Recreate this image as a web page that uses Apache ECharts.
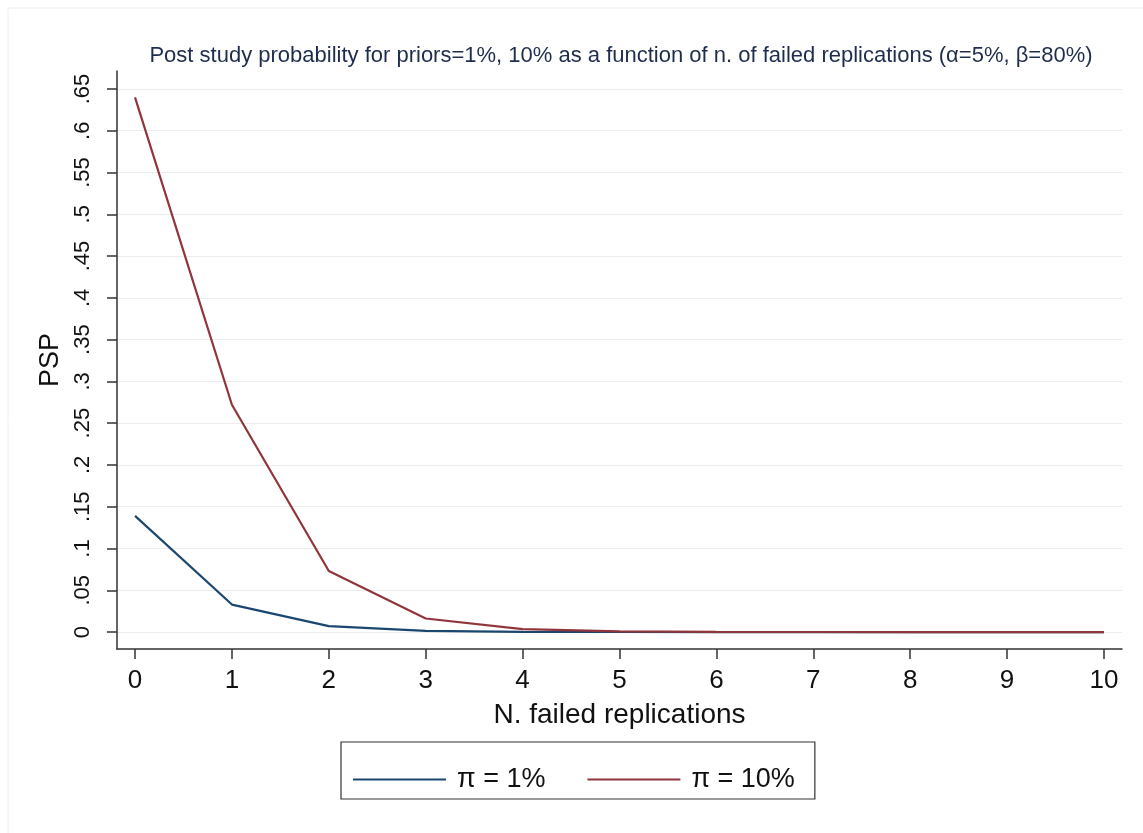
<!DOCTYPE html>
<html>
<head>
<meta charset="utf-8">
<script src="https://cdn.jsdelivr.net/npm/echarts@6/dist/echarts.min.js"></script>
<style>
html,body{margin:0;padding:0;background:#fff;}
#chart{width:1143px;height:833px;}
</style>
</head>
<body>
<div id="chart"></div>
<script>
// ---- data ----
const replications = [0, 1, 2, 3, 4, 5, 6, 7, 8, 9, 10];
const psp1 = [0.139, 0.0329, 0.0071, 0.0015, 0.0003, 0.00007, 0.00001, 0, 0, 0, 0];
const psp10 = [0.640, 0.272, 0.073, 0.0162, 0.0035, 0.0007, 0.00015, 0.00003, 0.00001, 0, 0];
const yTicks = [0, 0.05, 0.1, 0.15, 0.2, 0.25, 0.3, 0.35, 0.4, 0.45, 0.5, 0.55, 0.6, 0.65];
const xTicks = [0, 1, 2, 3, 4, 5, 6, 7, 8, 9, 10];
const seriesNames = ['\u03c0 = 1%', '\u03c0 = 10%'];
const titleText = 'Post study probability for priors=1%, 10% as a function of n. of failed replications (\u03b1=5%, \u03b2=80%)';

const FONT = '"Liberation Sans", Arial, Helvetica, sans-serif';
const chart = echarts.init(document.getElementById('chart'), null, {renderer: 'canvas'});
const pairs = (ys) => replications.map((x, i) => [x, ys[i]]);

chart.setOption({
  backgroundColor: '#ffffff',
  animation: false,
  textStyle: {fontFamily: FONT},
  title: {
    text: titleText,
    left: 621, textAlign: 'center',
    top: 45, padding: 0,
    textStyle: {fontFamily: FONT, fontSize: 22, fontWeight: 'normal', color: '#1f2d4d'}
  },
  graphic: [
    {type: 'line', shape: {x1: 8, y1: 8, x2: 1143, y2: 8}, style: {stroke: '#eeeeee', lineWidth: 1}, silent: true},
    {type: 'line', shape: {x1: 8, y1: 8, x2: 8, y2: 833}, style: {stroke: '#eeeeee', lineWidth: 1}, silent: true}
  ],
  grid: {left: 117, right: 21, top: 71, bottom: 184, containLabel: false},
  xAxis: {
    type: 'value',
    min: -0.186, max: 10.186,
    name: 'N. failed replications',
    nameLocation: 'middle',
    nameGap: 52,
    nameTextStyle: {fontFamily: FONT, fontSize: 28, color: '#111'},
    axisLine: {show: true, onZero: false, lineStyle: {color: '#333', width: 1.5}},
    axisTick: {show: true, length: 10, lineStyle: {color: '#333', width: 1.5}, customValues: xTicks},
    axisLabel: {fontFamily: FONT, fontSize: 26, color: '#111', margin: 19, customValues: xTicks, formatter: v => String(v)},
    splitLine: {show: false}
  },
  yAxis: {
    type: 'value',
    min: -0.0203, max: 0.6715,
    name: 'PSP',
    nameLocation: 'middle',
    nameGap: 41,
    nameRotate: 90,
    nameTextStyle: {fontFamily: FONT, fontSize: 27, color: '#111'},
    axisLine: {show: true, onZero: false, lineStyle: {color: '#333', width: 1.5}},
    axisTick: {show: true, length: 10, lineStyle: {color: '#333', width: 1.5}, customValues: yTicks},
    axisLabel: {fontFamily: FONT, fontSize: 22, color: '#111', margin: 23, rotate: 90, customValues: yTicks,
      formatter: v => String(v).replace(/^0\./, '.')},
    splitLine: {show: true, lineStyle: {color: '#ececec', width: 1.2}}
  },
  legend: {
    left: 341, top: 742,
    orient: 'horizontal',
    padding: [24, 20, 6, 12],
    borderColor: '#333', borderWidth: 1.2,
    icon: 'rect',
    itemWidth: 93, itemHeight: 2.2, itemGap: 42,
    textStyle: {fontFamily: FONT, fontSize: 27, color: '#111', padding: [0, 0, 0, 6]},
    data: seriesNames
  },
  series: [
    {name: seriesNames[0], type: 'line', data: pairs(psp1), symbol: 'none',
      lineStyle: {color: '#1a476f', width: 2.2}, itemStyle: {color: '#1a476f'}},
    {name: seriesNames[1], type: 'line', data: pairs(psp10), symbol: 'none',
      lineStyle: {color: '#90353b', width: 2.2}, itemStyle: {color: '#90353b'}}
  ]
});
</script>
</body>
</html>
